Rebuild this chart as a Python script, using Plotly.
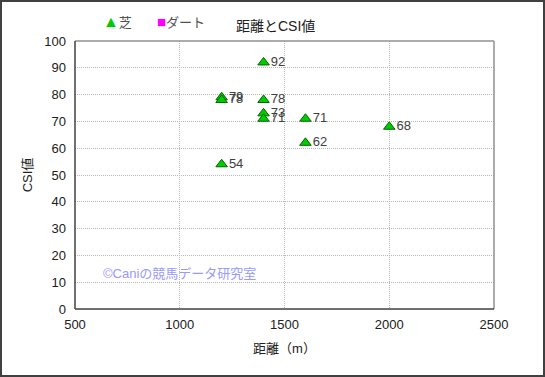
import plotly.graph_objects as go

distance_shiba = [1200, 1200, 1200, 1400, 1400, 1400, 1400, 1600, 1600, 2000]
csi_shiba = [79, 78, 54, 92, 78, 73, 71, 71, 62, 68]
distance_dirt = []
csi_dirt = []

FONT = "Liberation Sans, Noto Sans CJK JP, sans-serif"

fig = go.Figure()
fig.add_trace(go.Scatter(
    x=distance_shiba, y=csi_shiba, mode="markers+text", name="芝",
    text=[str(v) for v in csi_shiba], textposition="middle right",
    textfont=dict(size=13, color="#404040", family=FONT),
    marker=dict(symbol="triangle-up", size=10, color="#00cc00",
                line=dict(color="#006600", width=1)),
    cliponaxis=False, showlegend=False,
))
fig.add_trace(go.Scatter(
    x=distance_dirt if distance_dirt else [None], y=csi_dirt if csi_dirt else [None],
    mode="markers", name="ダート", showlegend=False,
    marker=dict(symbol="square", size=9, color="#ff00ff", line=dict(width=0)),
))

W, H = 545, 377
L, R, T, B = 75, 51, 41, 68
pw, ph = W - L - R, H - T - B

def px(x):
    return (x - L) / pw

def py(y):
    return 1 - (y - T) / ph

# outer frame
fig.add_shape(type="rect", xref="paper", yref="paper",
              x0=px(1), x1=px(W - 1), y0=py(H - 1), y1=py(1),
              line=dict(color="#404040", width=2), fillcolor="rgba(0,0,0,0)")
# plot frame: top/right lighter, left/bottom dark
fig.add_shape(type="line", xref="paper", yref="paper", x0=0, x1=1, y0=1, y1=1,
              line=dict(color="#909090", width=1.5))
fig.add_shape(type="line", xref="paper", yref="paper", x0=1, x1=1, y0=0, y1=1,
              line=dict(color="#909090", width=1.5))
fig.add_shape(type="line", xref="paper", yref="paper", x0=0, x1=0, y0=0, y1=1,
              line=dict(color="#404040", width=1.5))
fig.add_shape(type="line", xref="paper", yref="paper", x0=0, x1=1, y0=0, y1=0,
              line=dict(color="#404040", width=1.5))

# legend drawn as annotations
fig.add_annotation(xref="paper", yref="paper", x=px(101), y=py(21),
                   xanchor="left", yanchor="middle", showarrow=False,
                   text="<span style='color:#00cc00;font-size:16px'>▲</span>芝",
                   font=dict(size=13, color="#505050", family=FONT))
fig.add_annotation(xref="paper", yref="paper", x=px(155), y=py(21),
                   xanchor="left", yanchor="middle", showarrow=False,
                   text="<span style='color:#ff00ff;font-size:15px'>■</span>ダート",
                   font=dict(size=13, color="#505050", family=FONT))

fig.add_annotation(xref="paper", yref="paper", x=px(101), y=py(273),
                   xanchor="left", yanchor="middle", showarrow=False,
                   text="©Caniの競馬データ研究室",
                   font=dict(size=13, color="#9999ff", family=FONT))

fig.add_annotation(xref="paper", yref="paper", x=px(275), y=py(26),
                   xanchor="center", yanchor="middle", showarrow=False,
                   text="距離とCSI値", font=dict(size=14, color="#202020", family=FONT))

fig.update_layout(
    width=W, height=H,
    margin=dict(l=L, r=R, t=T, b=B, autoexpand=False),
    paper_bgcolor="white", plot_bgcolor="white",
    font=dict(family=FONT, size=12, color="#202020"),
    showlegend=False,
    xaxis=dict(range=[500, 2500], dtick=500, tick0=500, showgrid=True,
               gridcolor="#b8b8b8", griddash="1px,1px", gridwidth=1,
               showline=False, zeroline=False, ticks="", tickfont=dict(size=13),
               ticklabelstandoff=6,
               title=dict(text="距離（m）", font=dict(size=13), standoff=12)),
    yaxis=dict(range=[0, 100], dtick=10, showgrid=True,
               gridcolor="#b8b8b8", griddash="1px,1px", gridwidth=1,
               showline=False, zeroline=False, ticks="", tickfont=dict(size=13),
               ticklabelstandoff=8,
               title=dict(text="CSI値", font=dict(size=13), standoff=8)),
)

fig.write_html("out.html", config={"displayModeBar": False},
               post_script="document.body.style.margin='0';")
